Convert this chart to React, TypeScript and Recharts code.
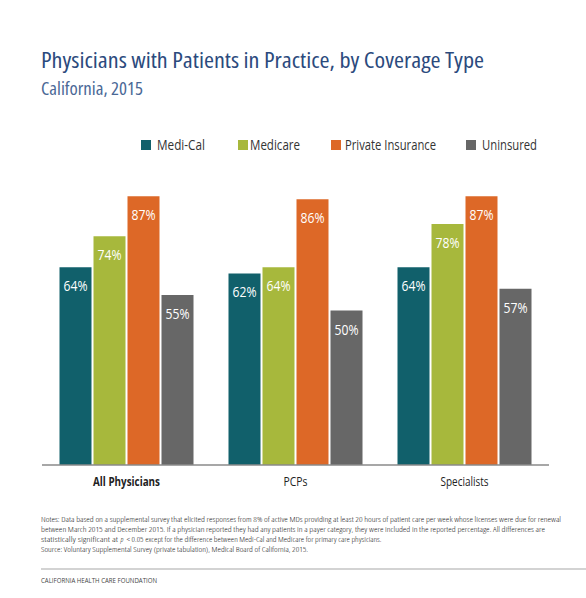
import React from 'react';
import { BarChart, Bar, XAxis, YAxis, LabelList } from 'recharts';

const categories = ['All Physicians', 'PCPs', 'Specialists'];
const mediCal = [64, 62, 64];
const medicare = [74, 64, 78];
const privateInsurance = [87, 86, 87];
const uninsured = [55, 50, 57];

const seriesNames = ['Medi-Cal', 'Medicare', 'Private Insurance', 'Uninsured'];
const seriesKeys = ['mediCal', 'medicare', 'privateInsurance', 'uninsured'];
const seriesColors = ['#11606b', '#a7b83c', '#dd6827', '#676767'];

const noteLine1 =
  'Notes: Data based on a supplemental survey that elicited responses from 8% of active MDs providing at least 20 hours of patient care per week whose licenses were due for renewal';
const noteLine2 =
  'between March 2015 and December 2015. If a physician reported they had any patients in a payer category, they were included in the reported percentage. All differences are';
const noteLine3a = 'statistically significant at';
const noteLine3p = 'p';
const noteLine3b = '< 0.05 except for the difference between Medi-Cal and Medicare for primary care physicians.';
const sourceText = 'Source: Voluntary Supplemental Survey (private tabulation), Medical Board of California, 2015.';
const footerText = 'CALIFORNIA HEALTH CARE FOUNDATION';

const data = categories.map((name, i) => ({
  name,
  mediCal: mediCal[i],
  medicare: medicare[i],
  privateInsurance: privateInsurance[i],
  uninsured: uninsured[i],
}));

const SANS = "'Open Sans', 'Noto Sans', sans-serif";
const condensed = { fontStretch: 'condensed' } as React.CSSProperties;

const tickWidths: Record<string, number> = { 'All Physicians': 67, PCPs: 24, Specialists: 48 };

const CustomTick = (props: any) => {
  const { x, y, payload } = props;
  const label = payload.value as string;
  const bold = label === 'All Physicians';
  return (
    <text
      x={x}
      y={y + 13}
      textAnchor="middle"
      fontFamily={SANS}
      fontSize={12}
      fontWeight={bold ? 700 : 400}
      fill="#222"
      textLength={tickWidths[label]}
      lengthAdjust="spacingAndGlyphs"
    >
      {label}
    </text>
  );
};

const BarLabel = (props: any) => {
  const { x, y, width, value } = props;
  return (
    <text
      x={Number(x) + Number(width) / 2}
      y={Number(y) + 24}
      textAnchor="middle"
      fontFamily={SANS}
      fontSize={15}
      fontWeight={400}
      fill="#ffffff"
      textLength={24}
      lengthAdjust="spacingAndGlyphs"
    >
      {`${value}%`}
    </text>
  );
};

const legendX = [141, 238, 331, 466];
const legendTextX = [157, 250, 345, 482];
const legendTextW = [48, 50, 91, 55];

const noteProps = {
  fontFamily: SANS,
  fontSize: 7.5,
  fontWeight: 300,
  fill: '#222',
  lengthAdjust: 'spacingAndGlyphs',
  style: condensed,
} as any;

export default function App() {
  return (
    <div style={{ position: 'absolute', left: 0, top: 0, width: 586, height: 598, background: '#fff' }}>
      <BarChart
        width={586}
        height={598}
        data={data}
        margin={{ top: 156, right: 37, bottom: 103, left: 42 }}
        barCategoryGap={17.5}
        barGap={2}
      >
        <XAxis
          dataKey="name"
          height={30}
          interval={0}
          tickLine={false}
          axisLine={{ stroke: '#8a8a8a', strokeWidth: 1.5 }}
          tick={<CustomTick />}
        />
        <YAxis hide domain={[0, 100]} />
        {seriesKeys.map((k, i) => (
          <Bar key={k} dataKey={k} name={seriesNames[i]} fill={seriesColors[i]} isAnimationActive={false}>
            <LabelList dataKey={k} content={<BarLabel />} />
          </Bar>
        ))}
      </BarChart>
      <svg
        width={586}
        height={598}
        style={{ position: 'absolute', left: 0, top: 0, pointerEvents: 'none' }}
      >
        <text x={41} y={68} fontFamily={SANS} fontSize={22} fontWeight={500} fill="#2b4a7d" style={condensed} textLength={443} lengthAdjust="spacingAndGlyphs">
          Physicians with Patients in Practice, by Coverage Type
        </text>
        <text x={41} y={95} fontFamily={SANS} fontSize={18} fill="#4a6896" style={condensed} textLength={102} lengthAdjust="spacingAndGlyphs">
          California, 2015
        </text>
        {seriesNames.map((n, i) => (
          <g key={n}>
            <rect x={legendX[i]} y={140} width={10} height={10} fill={seriesColors[i]} />
            <text
              x={legendTextX[i]}
              y={150}
              fontFamily={SANS}
              fontSize={14}
              fill="#333"
              textLength={legendTextW[i]}
              lengthAdjust="spacingAndGlyphs"
            >
              {n}
            </text>
          </g>
        ))}
        <text x={41} y={521.5} {...noteProps} textLength={520}>
          {noteLine1}
        </text>
        <text x={41} y={531.5} {...noteProps} textLength={504}>
          {noteLine2}
        </text>
        <text x={41} y={541.5} {...noteProps} textLength={77}>
          {noteLine3a}
        </text>
        <text x={120.5} y={541.5} {...noteProps} fontStyle="italic">
          {noteLine3p}
        </text>
        <text x={126.5} y={541.5} {...noteProps} textLength={255}>
          {noteLine3b}
        </text>
        <text x={41} y={552} {...noteProps} textLength={267}>
          {sourceText}
        </text>
        <line x1={41} y1={569} x2={586} y2={569} stroke="#d3d3d3" strokeWidth={2} />
        <text x={41} y={582.5} fontFamily={SANS} fontSize={6.5} fill="#444" textLength={116} lengthAdjust="spacingAndGlyphs">
          {footerText}
        </text>
      </svg>
    </div>
  );
}
